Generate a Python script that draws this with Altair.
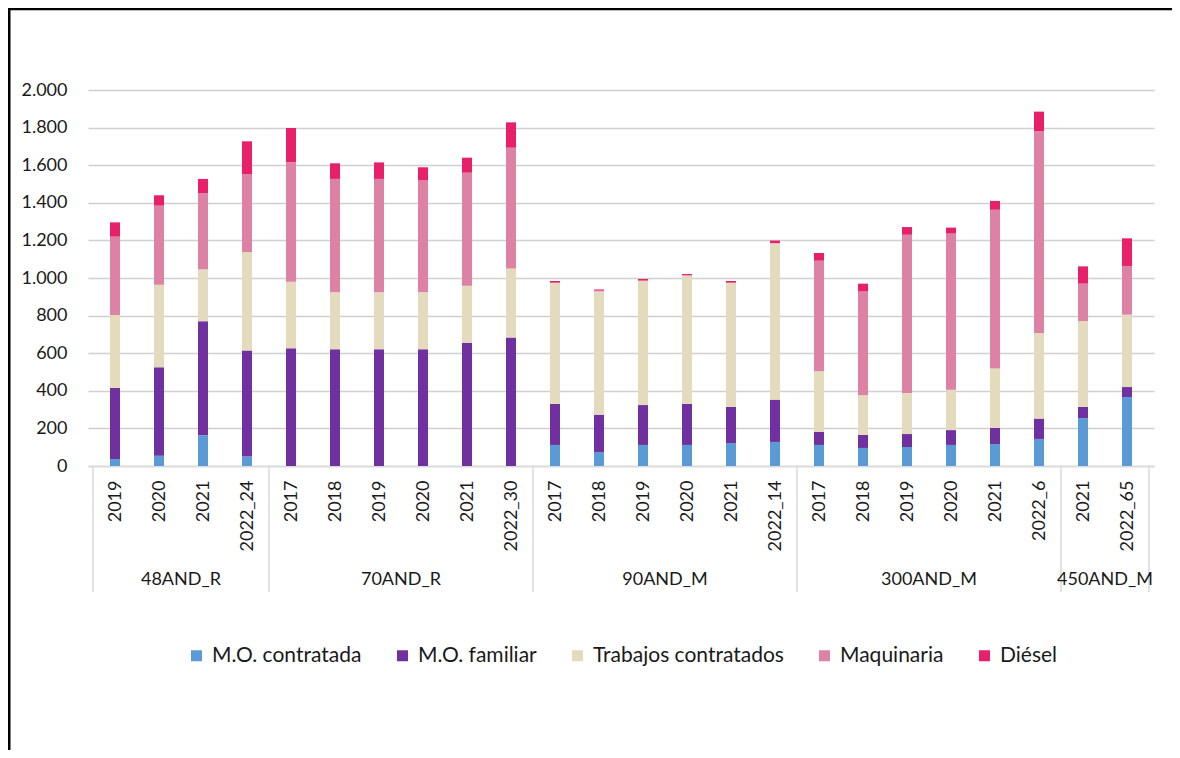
import json
import altair as alt
import pandas as pd

# ---- data -------------------------------------------------------------
groups = ["48AND_R", "70AND_R", "90AND_M", "300AND_M", "450AND_M"]
group_sizes = [4, 6, 6, 6, 2]
years = ["2019", "2020", "2021", "2022_24",
         "2017", "2018", "2019", "2020", "2021", "2022_30",
         "2017", "2018", "2019", "2020", "2021", "2022_14",
         "2017", "2018", "2019", "2020", "2021", "2022_6",
         "2021", "2022_65"]
series = ["M.O. contratada", "M.O. familiar", "Trabajos contratados", "Maquinaria", "Diésel"]
colors = ["#5B9BD5", "#7030A0", "#E4DABD", "#DD82A4", "#E8206A"]

mo_contratada = [37, 55, 163, 50,
                 0, 0, 0, 0, 0, 0,
                 112, 74, 112, 112, 122, 128,
                 112, 96, 101, 112, 117, 144,
                 255, 367]
mo_familiar = [378, 470, 607, 565,
               626, 621, 621, 621, 656, 683,
               218, 199, 212, 218, 192, 225,
               69, 69, 69, 79, 85, 108,
               59, 53]
trabajos = [388, 439, 276, 523,
            354, 303, 303, 303, 303, 368,
            645, 656, 662, 682, 661, 831,
            323, 211, 218, 215, 317, 455,
            457, 385]
maquinaria = [417, 421, 406, 415,
              635, 603, 603, 597, 601, 642,
              0, 4, 0, 3, 0, 2,
              588, 553, 842, 830, 844, 1075,
              199, 259]
diesel = [76, 55, 75, 174,
          183, 83, 88, 68, 80, 135,
          9, 6, 9, 6, 9, 13,
          41, 41, 41, 32, 47, 103,
          92, 147]

y_ticks = [0, 200, 400, 600, 800, 1000, 1200, 1400, 1600, 1800, 2000]

# ---- tables -------------------------------------------------------------
group_of = []
for g, n in zip(groups, group_sizes):
    group_of += [g] * n

values_by_series = [mo_contratada, mo_familiar, trabajos, maquinaria, diesel]
rows = []
for k, (s, vals) in enumerate(zip(series, values_by_series)):
    for i, v in enumerate(vals):
        rows.append({"pos": i, "year": years[i], "group": group_of[i],
                     "series": s, "k": k, "value": v})
df = pd.DataFrame(rows)

g_rows = []
b_rows = [{"b": -0.5}]
start = 0
for g, n in zip(groups, group_sizes):
    g_rows.append({"name": g, "mid": start + (n - 1) / 2})
    start += n
    b_rows.append({"b": start - 0.5})
gdf = pd.DataFrame(g_rows)
bdf = pd.DataFrame(b_rows)
one = pd.DataFrame({"z": [0]})

# ---- chart --------------------------------------------------------------
FONT = "Lato"
TXT = "#1a1a1a"
W, H = 1066, 376

xscale = alt.Scale(domain=[-0.5, len(years) - 0.5], nice=False, zero=False)
xaxis = alt.Axis(values=list(range(len(years))),
                 labelExpr=json.dumps(years) + "[datum.value]",
                 labelAngle=270, labelFontSize=18, labelFont=FONT, labelColor=TXT,
                 labelPadding=14, ticks=False, grid=False,
                 domainColor="#d9d9d9", domainWidth=1.5, title=None)

bars = alt.Chart(df).mark_bar(size=10).encode(
    x=alt.X("pos:Q", scale=xscale, axis=xaxis),
    y=alt.Y("value:Q", stack="zero",
            scale=alt.Scale(domain=[0, 2000], nice=False),
            axis=alt.Axis(values=y_ticks,
                          labelExpr="replace(format(datum.value, ','), ',', '.')",
                          labelFontSize=18, labelFont=FONT, labelColor=TXT,
                          labelPadding=21, ticks=False, domain=False,
                          gridColor="#d0d0d0", gridWidth=1.3, title=None)),
    color=alt.Color("series:N",
                    scale=alt.Scale(domain=series, range=colors),
                    legend=alt.Legend(orient="none", legendX=98, legendY=555,
                                      direction="horizontal", title=None,
                                      symbolType="square", symbolSize=121,
                                      symbolStrokeWidth=0, labelFontSize=21,
                                      labelFont=FONT, labelColor=TXT,
                                      labelLimit=500,
                                      columnPadding=30, labelOffset=5)),
    order=alt.Order("k:Q"),
)

seps = alt.Chart(bdf).mark_rule(color="#d9d9d9", strokeWidth=1.5).encode(
    x=alt.X("b:Q", scale=xscale, axis=xaxis),
    y=alt.value(H), y2=alt.value(502),
)

glabels = alt.Chart(gdf).mark_text(fontSize=18, font=FONT, color=TXT,
                                   align="center", baseline="middle").encode(
    x=alt.X("mid:Q", scale=xscale, axis=xaxis),
    y=alt.value(490),
    text="name:N",
)

border_left = alt.Chart(one).mark_rule(color="black", strokeWidth=3).encode(
    x=alt.value(-79), y=alt.value(-82), y2=alt.value(660))
border_top = alt.Chart(one).mark_rule(color="black", strokeWidth=2.5).encode(
    x=alt.value(-80), x2=alt.value(1084), y=alt.value(-81))

chart = alt.layer(bars, seps, glabels, border_left, border_top).properties(
    width=W, height=H,
    autosize=alt.AutoSizeParams(type="none"),
    padding={"left": 80, "top": 82, "right": 18, "bottom": 284},
    background="white",
).configure_view(strokeWidth=0)

chart.save("out.html", embed_options={"renderer": "svg", "actions": False})
